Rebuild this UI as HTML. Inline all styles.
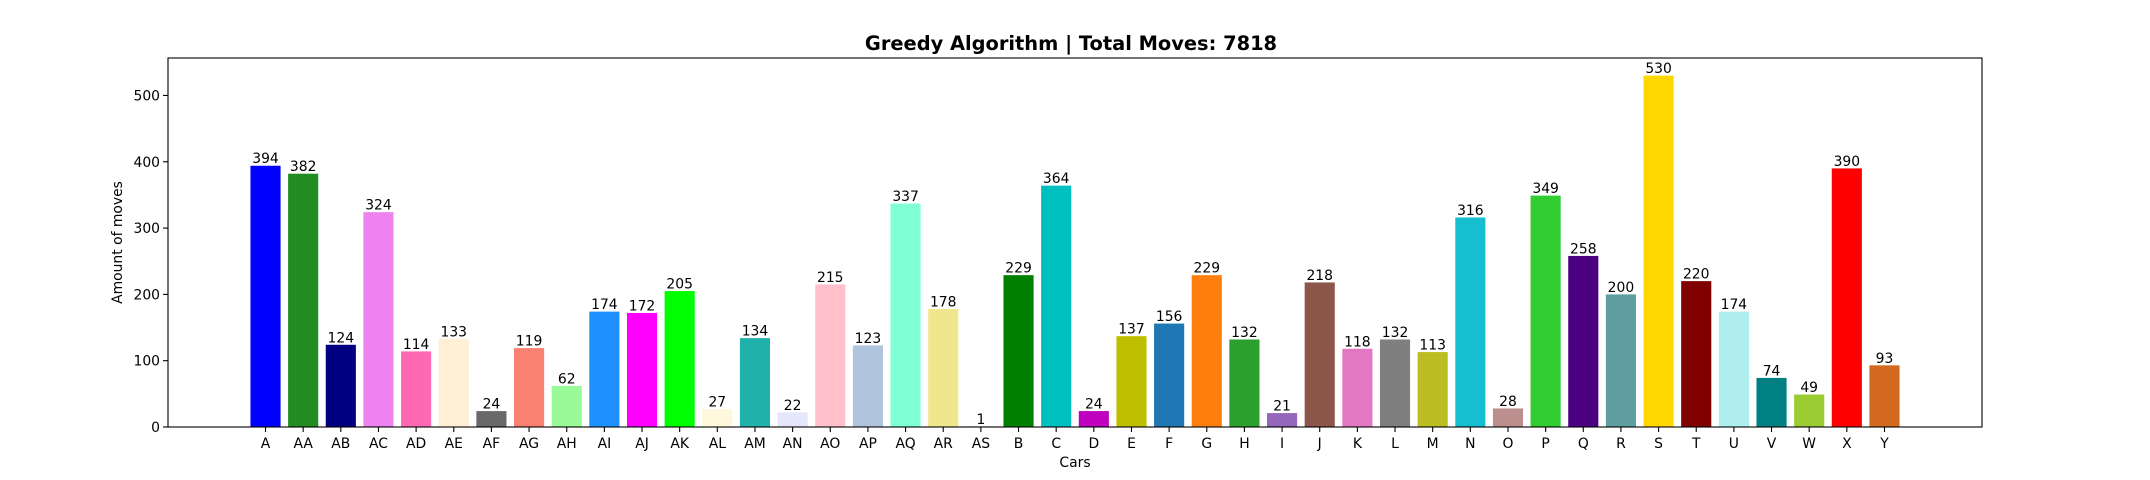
<!DOCTYPE html>
<html><head><meta charset="utf-8"><style>
html,body{margin:0;padding:0;background:#fff;width:2150px;height:480px;overflow:hidden}
svg text{font-family:"DejaVu Sans","Liberation Sans",sans-serif;fill:#000}
</style></head><body>
<svg id="chart" width="2150" height="480" viewBox="0 0 2150 480" xmlns="http://www.w3.org/2000/svg">
<rect width="2150" height="480" fill="#fff"/>
<text x="1071" y="50" font-size="19.4" font-weight="bold" text-anchor="middle">Greedy Algorithm | Total Moves: 7818</text>
<g id="bars"></g>
<g id="axes"></g>
<text x="1075" y="467" font-size="13.9" text-anchor="middle">Cars</text>
<text transform="translate(122,242.5) rotate(-90)" font-size="13.9" text-anchor="middle">Amount of moves</text>
</svg>
<script>
const categories = ["A","AA","AB","AC","AD","AE","AF","AG","AH","AI","AJ","AK","AL","AM","AN","AO","AP","AQ","AR","AS","B","C","D","E","F","G","H","I","J","K","L","M","N","O","P","Q","R","S","T","U","V","W","X","Y"];
const values = [394,382,124,324,114,133,24,119,62,174,172,205,27,134,22,215,123,337,178,1,229,364,24,137,156,229,132,21,218,118,132,113,316,28,349,258,200,530,220,174,74,49,390,93];
const colors = ["#0000ff","#228b22","#000080","#ee82ee","#ff69b4","#ffefd5","#696969","#fa8072","#98fb98","#1e90ff","#ff00ff","#00ff00","#fff8dc","#20b2aa","#e6e6fa","#ffc0cb","#b0c4de","#7fffd4","#f0e68c","#d3d3d3","#008000","#00bfbf","#bf00bf","#bfbf00","#1f77b4","#ff7f0e","#2ca02c","#9467bd","#8c564b","#e377c2","#7f7f7f","#bcbd22","#17becf","#bc8f8f","#32cd32","#4b0082","#5f9ea0","#ffd700","#800000","#afeeee","#008080","#9acd32","#ff0000","#d2691e"];
const yTicks = [0,100,200,300,400,500];

const NS="http://www.w3.org/2000/svg";
const L=168, R=1982, T=58, B=427;
const n=categories.length;
const xmin=-0.4-0.05*(n-1+0.8), xmax=n-1+0.4+0.05*(n-1+0.8);
const ymax=Math.max(...values)*1.05;
const xs=v=>L+(v-xmin)/(xmax-xmin)*(R-L);
const ys=v=>B-v/ymax*(B-T);
function mk(tag,attrs,parent,text){const e=document.createElementNS(NS,tag);for(const k in attrs)e.setAttribute(k,attrs[k]);if(text!==undefined)e.textContent=text;parent.appendChild(e);return e;}
const bars=document.getElementById('bars'), axes=document.getElementById('axes');
const bw=0.8*(xs(1)-xs(0));
values.forEach((v,i)=>{
  const cx=xs(i);
  const r=mk('rect',{x:cx-bw/2,y:ys(v),width:bw,height:B-ys(v),fill:colors[i]},bars);
  
  
  const t=mk('text',{x:cx,y:ys(v)-2.5,'font-size':13.9,'text-anchor':'middle'},bars,String(v));
  
  
  const tk=mk('line',{x1:cx,x2:cx,y1:B,y2:B+5,stroke:'#000','stroke-width':1.1},axes);
  
  
  const tl=mk('text',{x:cx,y:B+21,'font-size':13.9,'text-anchor':'middle'},axes,categories[i]);
  
  
});
yTicks.forEach(v=>{
  const y=ys(v);
  const tk=mk('line',{x1:L-5,x2:L,y1:y,y2:y,stroke:'#000','stroke-width':1.1},axes);
  
  
  const tl=mk('text',{x:L-8,y:y+5,'font-size':13.9,'text-anchor':'end'},axes,String(v));
  
  
});
const frame=mk('rect',{x:L,y:T,width:R-L,height:B-T,fill:'none',stroke:'#000','stroke-width':1.1},axes);


</script>
</body></html>
